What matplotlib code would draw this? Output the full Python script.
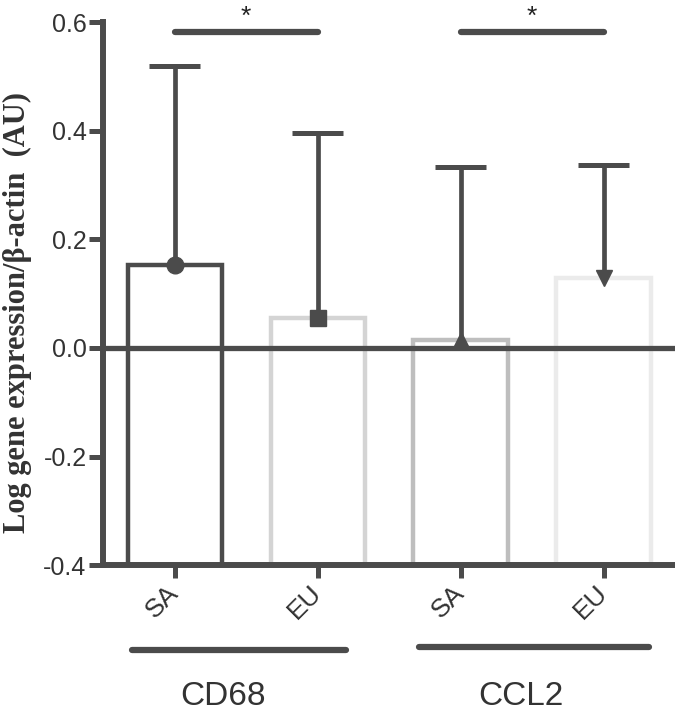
import numpy as np
import matplotlib.pyplot as plt

groups = ["CD68", "CCL2"]
group_label_x = [0.34, 2.42]
tick_labels = ["SA", "EU", "SA", "EU"]
means = [0.153, 0.056, 0.014, 0.129]
err_top = [0.519, 0.396, 0.333, 0.337]
edge_cols = ["#4b4b4b", "#d4d4d4", "#bebebe", "#ebebeb"]
markers = ["o", "s", "^", "v"]
marker_sizes = [12, 11, 12, 12]
sig_pairs = [(0, 1, 0.581), (2, 3, 0.581)]

dark = "#4b4b4b"
base = -0.4
x = np.arange(len(means))

fig = plt.figure(figsize=(6.75, 7.11), dpi=100)
ax = fig.add_axes([0.153, 0.205, 0.847, 0.764])

ax.bar(x, np.array(means) - base, bottom=base, width=0.66, color="white",
       edgecolor=edge_cols, linewidth=3.2, zorder=2)
ax.axhline(0, color=dark, lw=3.8, zorder=3)

# upper error bars only, with a cap on top
ax.vlines(x, means, err_top, color=dark, lw=3.4, zorder=4)
ax.hlines(err_top, x - 0.18, x + 0.18, color=dark, lw=3.6, zorder=4)
for i in range(len(means)):
    ax.plot(x[i], means[i], marker=markers[i], ms=marker_sizes[i], color=dark,
            zorder=5)

for a, b, y in sig_pairs:
    ax.plot([x[a], x[b]], [y, y], color=dark, lw=4.5,
            solid_capstyle="round", clip_on=False)
    ax.text((x[a] + x[b]) / 2, y + 0.016, "*", ha="center", va="baseline",
            fontsize=19, color="#222222", family="Liberation Sans")

# group brackets under the axis
bracket_ext = [(-0.30, 0.20), (-0.29, 0.32)]
bracket_y = [-0.556, -0.551]
for g, name in enumerate(groups):
    x0 = x[2 * g] + bracket_ext[g][0]
    x1 = x[2 * g + 1] + bracket_ext[g][1]
    ax.plot([x0, x1], [bracket_y[g], bracket_y[g]], color=dark, lw=4.5,
            solid_capstyle="round", clip_on=False)
    ax.text(group_label_x[g], -0.657, name, ha="center", va="baseline",
            fontsize=24, color="#333333", family="Liberation Sans")

ax.set_xlim(-0.5, 3.5)
ax.set_ylim(-0.4, 0.6)
ax.set_yticks([-0.4, -0.2, 0.0, 0.2, 0.4, 0.6])
ax.set_yticklabels(["-0.4", "-0.2", "0.0", "0.2", "0.4", "0.6"])
ax.set_xticks(x)
ax.set_xticklabels(tick_labels, rotation=45, ha="right", va="center",
                   rotation_mode="anchor")

for lab in ax.get_yticklabels() + ax.get_xticklabels():
    lab.set_family("Liberation Sans")
    lab.set_color("#333333")
for lab in ax.get_yticklabels():
    lab.set_fontsize(18)
for lab in ax.get_xticklabels():
    lab.set_fontsize(19)

ax.tick_params(axis="y", direction="out", length=10, width=3.6, color=dark, pad=2)
ax.tick_params(axis="x", direction="out", length=9, width=3.6, color=dark, pad=8)

ax.spines["top"].set_visible(False)
ax.spines["right"].set_visible(False)
for s in ["left", "bottom"]:
    ax.spines[s].set_linewidth(4.3)
    ax.spines[s].set_color(dark)

ax.set_ylabel("Log gene expression/\u03b2-actin  (AU)", family="Liberation Serif",
              fontweight="bold", fontsize=22, color="#333333")
ax.yaxis.set_label_coords(-0.125, 0.466)

fig.savefig("out.png", dpi=100)
